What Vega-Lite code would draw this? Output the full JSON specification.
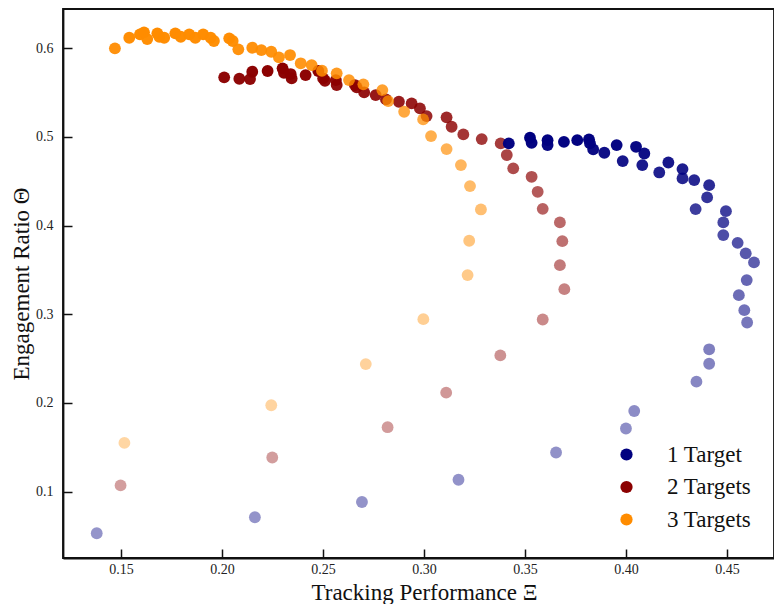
{
  "$schema": "https://vega.github.io/schema/vega-lite/v6.json",
  "width": 711,
  "height": 549,
  "autosize": "none",
  "padding": {"left": 63, "top": 9, "right": 0, "bottom": 46},
  "background": "white",
  "datasets": {
    "runs": [
      {"targets": "1 Target", "xi": 0.342, "theta": 0.4925},
      {"targets": "1 Target", "xi": 0.3525, "theta": 0.4989},
      {"targets": "1 Target", "xi": 0.3533, "theta": 0.4932},
      {"targets": "1 Target", "xi": 0.3612, "theta": 0.4962},
      {"targets": "1 Target", "xi": 0.3612, "theta": 0.4906},
      {"targets": "1 Target", "xi": 0.3693, "theta": 0.4943},
      {"targets": "1 Target", "xi": 0.3759, "theta": 0.4962},
      {"targets": "1 Target", "xi": 0.3817, "theta": 0.497},
      {"targets": "1 Target", "xi": 0.3822, "theta": 0.4925},
      {"targets": "1 Target", "xi": 0.3838, "theta": 0.4858},
      {"targets": "1 Target", "xi": 0.3893, "theta": 0.482},
      {"targets": "1 Target", "xi": 0.3954, "theta": 0.4906},
      {"targets": "1 Target", "xi": 0.3984, "theta": 0.4726},
      {"targets": "1 Target", "xi": 0.405, "theta": 0.4887},
      {"targets": "1 Target", "xi": 0.4091, "theta": 0.4812},
      {"targets": "1 Target", "xi": 0.4081, "theta": 0.4681},
      {"targets": "1 Target", "xi": 0.4165, "theta": 0.4598},
      {"targets": "1 Target", "xi": 0.421, "theta": 0.471},
      {"targets": "1 Target", "xi": 0.428, "theta": 0.4636},
      {"targets": "1 Target", "xi": 0.428, "theta": 0.4531},
      {"targets": "1 Target", "xi": 0.4338, "theta": 0.4512},
      {"targets": "1 Target", "xi": 0.4345, "theta": 0.4185},
      {"targets": "1 Target", "xi": 0.4412, "theta": 0.4455},
      {"targets": "1 Target", "xi": 0.4402, "theta": 0.4317},
      {"targets": "1 Target", "xi": 0.4495, "theta": 0.4162},
      {"targets": "1 Target", "xi": 0.4482, "theta": 0.4035},
      {"targets": "1 Target", "xi": 0.4482, "theta": 0.3892},
      {"targets": "1 Target", "xi": 0.4553, "theta": 0.3805},
      {"targets": "1 Target", "xi": 0.4593, "theta": 0.3686},
      {"targets": "1 Target", "xi": 0.4634, "theta": 0.3584},
      {"targets": "1 Target", "xi": 0.4598, "theta": 0.3385},
      {"targets": "1 Target", "xi": 0.4559, "theta": 0.3215},
      {"targets": "1 Target", "xi": 0.4586, "theta": 0.3046},
      {"targets": "1 Target", "xi": 0.46, "theta": 0.2907},
      {"targets": "1 Target", "xi": 0.4412, "theta": 0.2605},
      {"targets": "1 Target", "xi": 0.4412, "theta": 0.2442},
      {"targets": "1 Target", "xi": 0.4349, "theta": 0.224},
      {"targets": "1 Target", "xi": 0.4041, "theta": 0.191},
      {"targets": "1 Target", "xi": 0.4, "theta": 0.1712},
      {"targets": "1 Target", "xi": 0.3654, "theta": 0.1442},
      {"targets": "1 Target", "xi": 0.3171, "theta": 0.1135},
      {"targets": "1 Target", "xi": 0.2693, "theta": 0.0884},
      {"targets": "1 Target", "xi": 0.2163, "theta": 0.0712},
      {"targets": "1 Target", "xi": 0.138, "theta": 0.0532},
      {"targets": "2 Targets", "xi": 0.2011, "theta": 0.567},
      {"targets": "2 Targets", "xi": 0.2086, "theta": 0.5654},
      {"targets": "2 Targets", "xi": 0.2139, "theta": 0.565},
      {"targets": "2 Targets", "xi": 0.215, "theta": 0.5733},
      {"targets": "2 Targets", "xi": 0.2226, "theta": 0.5741},
      {"targets": "2 Targets", "xi": 0.23, "theta": 0.5771},
      {"targets": "2 Targets", "xi": 0.2307, "theta": 0.5722},
      {"targets": "2 Targets", "xi": 0.234, "theta": 0.5707},
      {"targets": "2 Targets", "xi": 0.2345, "theta": 0.5658},
      {"targets": "2 Targets", "xi": 0.2414, "theta": 0.5695},
      {"targets": "2 Targets", "xi": 0.2477, "theta": 0.5741},
      {"targets": "2 Targets", "xi": 0.2501, "theta": 0.5658},
      {"targets": "2 Targets", "xi": 0.251, "theta": 0.5631},
      {"targets": "2 Targets", "xi": 0.2564, "theta": 0.5639},
      {"targets": "2 Targets", "xi": 0.2568, "theta": 0.5583},
      {"targets": "2 Targets", "xi": 0.2658, "theta": 0.5583},
      {"targets": "2 Targets", "xi": 0.2667, "theta": 0.5557},
      {"targets": "2 Targets", "xi": 0.2704, "theta": 0.55},
      {"targets": "2 Targets", "xi": 0.2761, "theta": 0.547},
      {"targets": "2 Targets", "xi": 0.2812, "theta": 0.5421},
      {"targets": "2 Targets", "xi": 0.2876, "theta": 0.5395},
      {"targets": "2 Targets", "xi": 0.2939, "theta": 0.5376},
      {"targets": "2 Targets", "xi": 0.298, "theta": 0.532},
      {"targets": "2 Targets", "xi": 0.3013, "theta": 0.5233},
      {"targets": "2 Targets", "xi": 0.3112, "theta": 0.5219},
      {"targets": "2 Targets", "xi": 0.3137, "theta": 0.5113},
      {"targets": "2 Targets", "xi": 0.3195, "theta": 0.5027},
      {"targets": "2 Targets", "xi": 0.3286, "theta": 0.4974},
      {"targets": "2 Targets", "xi": 0.338, "theta": 0.4925},
      {"targets": "2 Targets", "xi": 0.341, "theta": 0.4794},
      {"targets": "2 Targets", "xi": 0.3442, "theta": 0.4644},
      {"targets": "2 Targets", "xi": 0.3533, "theta": 0.4549},
      {"targets": "2 Targets", "xi": 0.3563, "theta": 0.438},
      {"targets": "2 Targets", "xi": 0.3588, "theta": 0.4188},
      {"targets": "2 Targets", "xi": 0.3673, "theta": 0.4035},
      {"targets": "2 Targets", "xi": 0.3685, "theta": 0.3824},
      {"targets": "2 Targets", "xi": 0.3673, "theta": 0.3553},
      {"targets": "2 Targets", "xi": 0.3695, "theta": 0.3283},
      {"targets": "2 Targets", "xi": 0.3588, "theta": 0.2941},
      {"targets": "2 Targets", "xi": 0.3378, "theta": 0.2536},
      {"targets": "2 Targets", "xi": 0.311, "theta": 0.2116},
      {"targets": "2 Targets", "xi": 0.282, "theta": 0.1727},
      {"targets": "2 Targets", "xi": 0.2249, "theta": 0.1386},
      {"targets": "2 Targets", "xi": 0.1498, "theta": 0.1071},
      {"targets": "3 Targets", "xi": 0.147, "theta": 0.5997},
      {"targets": "3 Targets", "xi": 0.1541, "theta": 0.6116},
      {"targets": "3 Targets", "xi": 0.1594, "theta": 0.6154},
      {"targets": "3 Targets", "xi": 0.1614, "theta": 0.6177},
      {"targets": "3 Targets", "xi": 0.163, "theta": 0.6101},
      {"targets": "3 Targets", "xi": 0.168, "theta": 0.6166},
      {"targets": "3 Targets", "xi": 0.169, "theta": 0.6127},
      {"targets": "3 Targets", "xi": 0.1714, "theta": 0.6116},
      {"targets": "3 Targets", "xi": 0.1769, "theta": 0.6166},
      {"targets": "3 Targets", "xi": 0.1796, "theta": 0.6127},
      {"targets": "3 Targets", "xi": 0.1838, "theta": 0.6154},
      {"targets": "3 Targets", "xi": 0.1868, "theta": 0.6116},
      {"targets": "3 Targets", "xi": 0.1907, "theta": 0.6154},
      {"targets": "3 Targets", "xi": 0.1944, "theta": 0.6116},
      {"targets": "3 Targets", "xi": 0.196, "theta": 0.6079},
      {"targets": "3 Targets", "xi": 0.2036, "theta": 0.6109},
      {"targets": "3 Targets", "xi": 0.2053, "theta": 0.6079},
      {"targets": "3 Targets", "xi": 0.2081, "theta": 0.5985},
      {"targets": "3 Targets", "xi": 0.215, "theta": 0.6003},
      {"targets": "3 Targets", "xi": 0.2195, "theta": 0.5977},
      {"targets": "3 Targets", "xi": 0.2244, "theta": 0.5958},
      {"targets": "3 Targets", "xi": 0.2282, "theta": 0.5895},
      {"targets": "3 Targets", "xi": 0.2337, "theta": 0.5921},
      {"targets": "3 Targets", "xi": 0.239, "theta": 0.5828},
      {"targets": "3 Targets", "xi": 0.2444, "theta": 0.5808},
      {"targets": "3 Targets", "xi": 0.2495, "theta": 0.5744},
      {"targets": "3 Targets", "xi": 0.2568, "theta": 0.5715},
      {"targets": "3 Targets", "xi": 0.2629, "theta": 0.5639},
      {"targets": "3 Targets", "xi": 0.27, "theta": 0.5591},
      {"targets": "3 Targets", "xi": 0.2794, "theta": 0.5526},
      {"targets": "3 Targets", "xi": 0.2823, "theta": 0.5402},
      {"targets": "3 Targets", "xi": 0.2902, "theta": 0.5282},
      {"targets": "3 Targets", "xi": 0.2996, "theta": 0.5196},
      {"targets": "3 Targets", "xi": 0.3035, "theta": 0.5008},
      {"targets": "3 Targets", "xi": 0.3112, "theta": 0.4861},
      {"targets": "3 Targets", "xi": 0.3183, "theta": 0.4681},
      {"targets": "3 Targets", "xi": 0.3228, "theta": 0.4444},
      {"targets": "3 Targets", "xi": 0.3282, "theta": 0.4181},
      {"targets": "3 Targets", "xi": 0.3224, "theta": 0.3828},
      {"targets": "3 Targets", "xi": 0.3216, "theta": 0.3441},
      {"targets": "3 Targets", "xi": 0.2997, "theta": 0.2945},
      {"targets": "3 Targets", "xi": 0.2712, "theta": 0.2438},
      {"targets": "3 Targets", "xi": 0.2244, "theta": 0.1974},
      {"targets": "3 Targets", "xi": 0.1517, "theta": 0.155}
    ]
  },
  "data": {"name": "runs"},
  "encoding": {
    "x": {
      "field": "xi",
      "type": "quantitative",
      "title": "Tracking Performance Ξ",
      "scale": {"domain": [0.1213, 0.4733], "nice": false, "zero": false},
      "axis": {"values": [0.15, 0.2, 0.25, 0.3, 0.35, 0.4, 0.45], "format": ".2f", "titleX": 361, "titleY": 41, "titleAlign": "center", "titleBaseline": "alphabetic"}
    },
    "y": {
      "field": "theta",
      "type": "quantitative",
      "title": "Engagement Ratio Θ",
      "scale": {"domain": [0.0253, 0.644], "nice": false, "zero": false},
      "axis": {"values": [0.1, 0.2, 0.3, 0.4, 0.5, 0.6], "format": ".1f", "titleX": -35, "titleY": 274.5, "titleAlign": "center", "titleBaseline": "alphabetic"}
    },
    "color": {
      "field": "targets",
      "type": "nominal",
      "title": null,
      "scale": {"domain": ["1 Target", "2 Targets", "3 Targets"], "range": ["#000080", "#8b0000", "#ff8c00"]},
      "legend": {
        "orient": "none",
        "legendX": 552,
        "legendY": 434,
        "symbolType": "circle",
        "symbolSize": 150,
        "symbolOpacity": 1,
        "labelFont": "Liberation Serif",
        "labelFontSize": 23,
        "labelColor": "#111",
        "labelOffset": 29,
        "rowPadding": 8.5
      }
    }
  },
  "layer": [
    {
      "transform": [{"filter": "datum.targets === '2 Targets'"}],
      "mark": {"type": "circle", "size": 140},
      "encoding": {
        "opacity": {"field": "theta", "type": "quantitative", "legend": null, "scale": {"type": "pow", "exponent": 3, "range": [0.38, 1]}}
      }
    },
    {
      "transform": [{"filter": "datum.targets === '3 Targets'"}],
      "mark": {"type": "circle", "size": 140},
      "encoding": {
        "opacity": {"field": "theta", "type": "quantitative", "legend": null, "scale": {"type": "pow", "exponent": 3, "range": [0.36, 1]}}
      }
    },
    {
      "transform": [{"filter": "datum.targets === '1 Target'"}],
      "mark": {"type": "circle", "size": 140},
      "encoding": {
        "opacity": {"field": "theta", "type": "quantitative", "legend": null, "scale": {"type": "pow", "exponent": 3, "range": [0.42, 1]}}
      }
    }
  ],
  "resolve": {"scale": {"opacity": "independent"}},
  "config": {
    "view": {"stroke": "#111", "strokeWidth": 1.8},
    "axis": {
      "grid": false,
      "domainColor": "#111",
      "domainWidth": 1.8,
      "tickColor": "#111",
      "tickWidth": 1.5,
      "tickSize": -9,
      "labelFont": "Liberation Serif",
      "labelFontSize": 14,
      "labelColor": "#222",
      "titleFont": "Liberation Serif",
      "titleFontSize": 23,
      "titleFontWeight": "normal",
      "titleColor": "#111"
    },
    "axisX": {"labelPadding": 13},
    "axisY": {"labelPadding": 19}
  }
}
